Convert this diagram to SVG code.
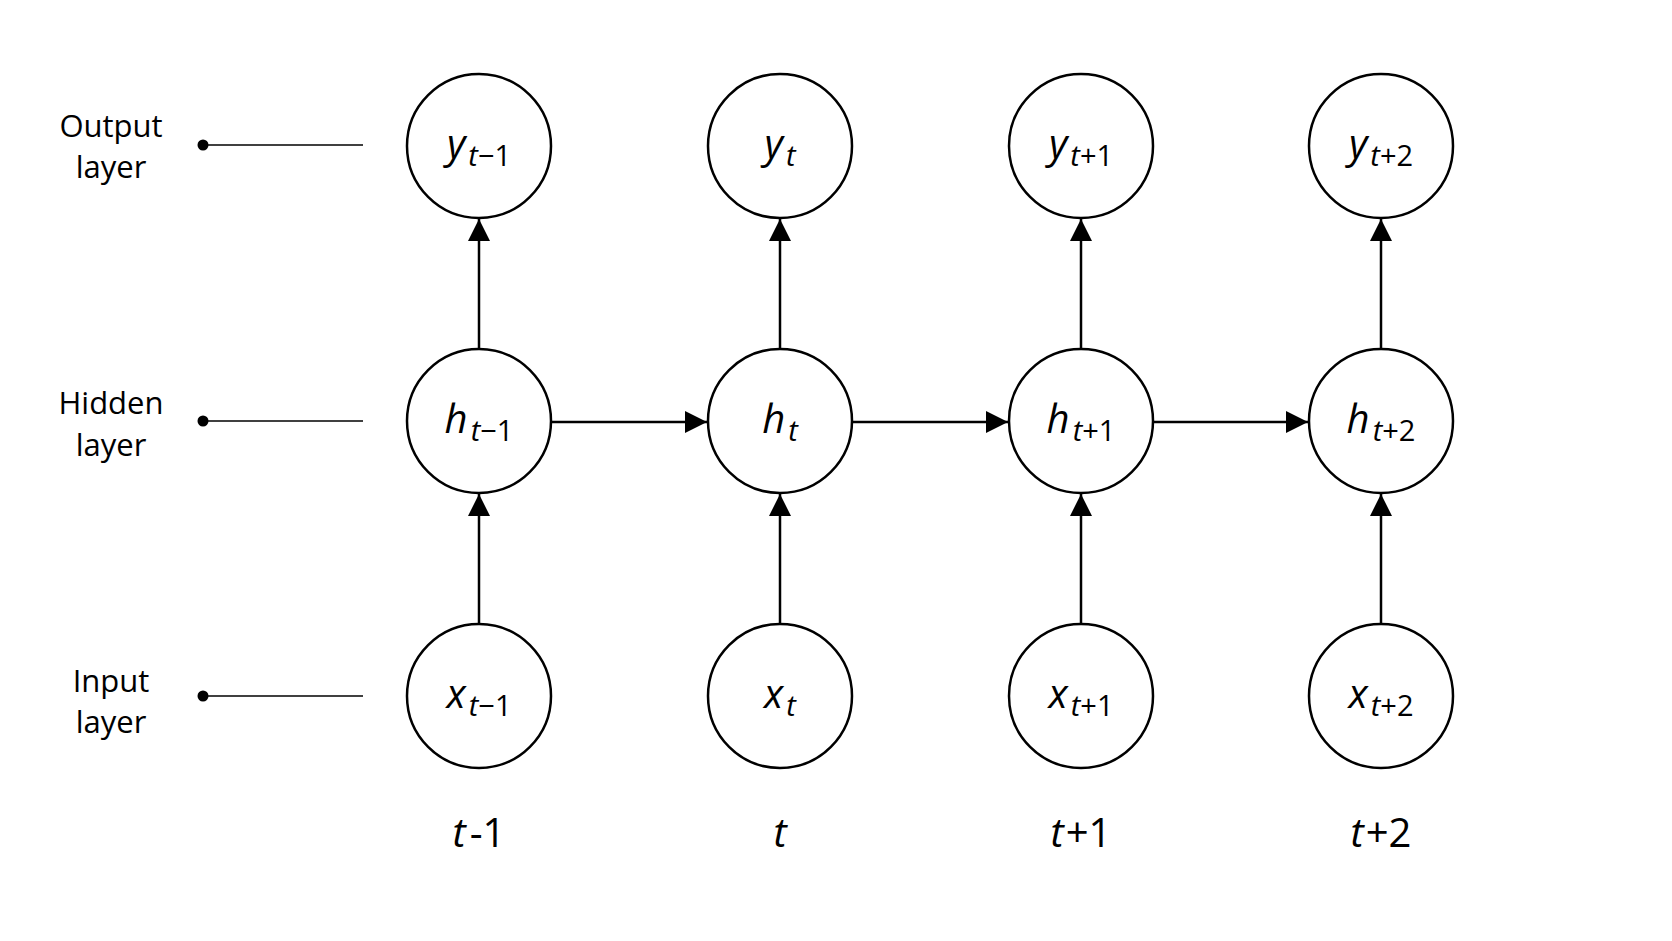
<svg xmlns="http://www.w3.org/2000/svg" width="1672" height="941" viewBox="0 0 1672 941">
<style>
.n{fill:#fff;stroke:#000;stroke-width:2.5}
.c{stroke:#000;stroke-width:2.5;fill:none}
.g{stroke:#000;stroke-width:1.5}
.t{font-family:"Open Sans","Noto Sans",sans-serif;fill:#000;text-anchor:middle}
.v{font-family:"Open Sans","Noto Sans",sans-serif;font-style:italic;font-size:40px;fill:#000;text-anchor:middle}
.s{font-size:29px}
.l{font-size:31px}
</style>
<defs>
<marker id="b" viewBox="0 0 22 22" markerWidth="22" markerHeight="22" refX="22" refY="11" orient="auto" markerUnits="userSpaceOnUse"><path d="M0,0 L22,11 L0,22z"/></marker></defs>
<rect width="1672" height="941" fill="#fff"/>
<g id="labels">
<text class="t l" x="111" y="137">Output</text><text class="t l" x="111" y="178">layer</text>
<text class="t l" x="111" y="414">Hidden</text><text class="t l" x="111" y="456">layer</text>
<text class="t l" x="111" y="692">Input</text><text class="t l" x="111" y="733">layer</text>
<circle cx="203" cy="145" r="5.5"/><line class="g" x1="203" y1="145" x2="363" y2="145"/>
<circle cx="203" cy="421" r="5.5"/><line class="g" x1="203" y1="421" x2="363" y2="421"/>
<circle cx="203" cy="696" r="5.5"/><line class="g" x1="203" y1="696" x2="363" y2="696"/>
<text class="v" x="479" y="847">t<tspan font-style="normal" dx="4">-1</tspan></text>
<text class="v" x="780" y="847">t</text>
<text class="v" x="1081" y="847">t<tspan font-style="normal" dx="2">+1</tspan></text>
<text class="v" x="1381" y="847">t<tspan font-style="normal" dx="2">+2</tspan></text>
</g>
<g id="connectors">
<line class="c" x1="479" y1="348" x2="479" y2="219" marker-end="url(#b)"/>
<line class="c" x1="780" y1="348" x2="780" y2="219" marker-end="url(#b)"/>
<line class="c" x1="1081" y1="348" x2="1081" y2="219" marker-end="url(#b)"/>
<line class="c" x1="1381" y1="348" x2="1381" y2="219" marker-end="url(#b)"/>
<line class="c" x1="479" y1="623" x2="479" y2="494" marker-end="url(#b)"/>
<line class="c" x1="780" y1="623" x2="780" y2="494" marker-end="url(#b)"/>
<line class="c" x1="1081" y1="623" x2="1081" y2="494" marker-end="url(#b)"/>
<line class="c" x1="1381" y1="623" x2="1381" y2="494" marker-end="url(#b)"/>
<line class="c" x1="552" y1="422" x2="707" y2="422" marker-end="url(#b)"/>
<line class="c" x1="853" y1="422" x2="1008" y2="422" marker-end="url(#b)"/>
<line class="c" x1="1154" y1="422" x2="1308" y2="422" marker-end="url(#b)"/>
</g>
<g id="y1"><circle class="n" cx="479" cy="146" r="72"/><text class="v" x="479" y="158">y<tspan class="s" dy="8" dx="3">t</tspan><tspan class="s" font-style="normal">−1</tspan></text></g>
<g id="y2"><circle class="n" cx="780" cy="146" r="72"/><text class="v" x="780" y="158">y<tspan class="s" dy="8" dx="3">t</tspan></text></g>
<g id="y3"><circle class="n" cx="1081" cy="146" r="72"/><text class="v" x="1081" y="158">y<tspan class="s" dy="8" dx="3">t</tspan><tspan class="s" font-style="normal">+1</tspan></text></g>
<g id="y4"><circle class="n" cx="1381" cy="146" r="72"/><text class="v" x="1381" y="158">y<tspan class="s" dy="8" dx="3">t</tspan><tspan class="s" font-style="normal">+2</tspan></text></g>
<g id="h1"><circle class="n" cx="479" cy="421" r="72"/><text class="v" x="479" y="433">h<tspan class="s" dy="8" dx="3">t</tspan><tspan class="s" font-style="normal">−1</tspan></text></g>
<g id="h2"><circle class="n" cx="780" cy="421" r="72"/><text class="v" x="780" y="433">h<tspan class="s" dy="8" dx="3">t</tspan></text></g>
<g id="h3"><circle class="n" cx="1081" cy="421" r="72"/><text class="v" x="1081" y="433">h<tspan class="s" dy="8" dx="3">t</tspan><tspan class="s" font-style="normal">+1</tspan></text></g>
<g id="h4"><circle class="n" cx="1381" cy="421" r="72"/><text class="v" x="1381" y="433">h<tspan class="s" dy="8" dx="3">t</tspan><tspan class="s" font-style="normal">+2</tspan></text></g>
<g id="x1"><circle class="n" cx="479" cy="696" r="72"/><text class="v" x="479" y="708">x<tspan class="s" dy="8" dx="3">t</tspan><tspan class="s" font-style="normal">−1</tspan></text></g>
<g id="x2"><circle class="n" cx="780" cy="696" r="72"/><text class="v" x="780" y="708">x<tspan class="s" dy="8" dx="3">t</tspan></text></g>
<g id="x3"><circle class="n" cx="1081" cy="696" r="72"/><text class="v" x="1081" y="708">x<tspan class="s" dy="8" dx="3">t</tspan><tspan class="s" font-style="normal">+1</tspan></text></g>
<g id="x4"><circle class="n" cx="1381" cy="696" r="72"/><text class="v" x="1381" y="708">x<tspan class="s" dy="8" dx="3">t</tspan><tspan class="s" font-style="normal">+2</tspan></text></g>
</svg>
